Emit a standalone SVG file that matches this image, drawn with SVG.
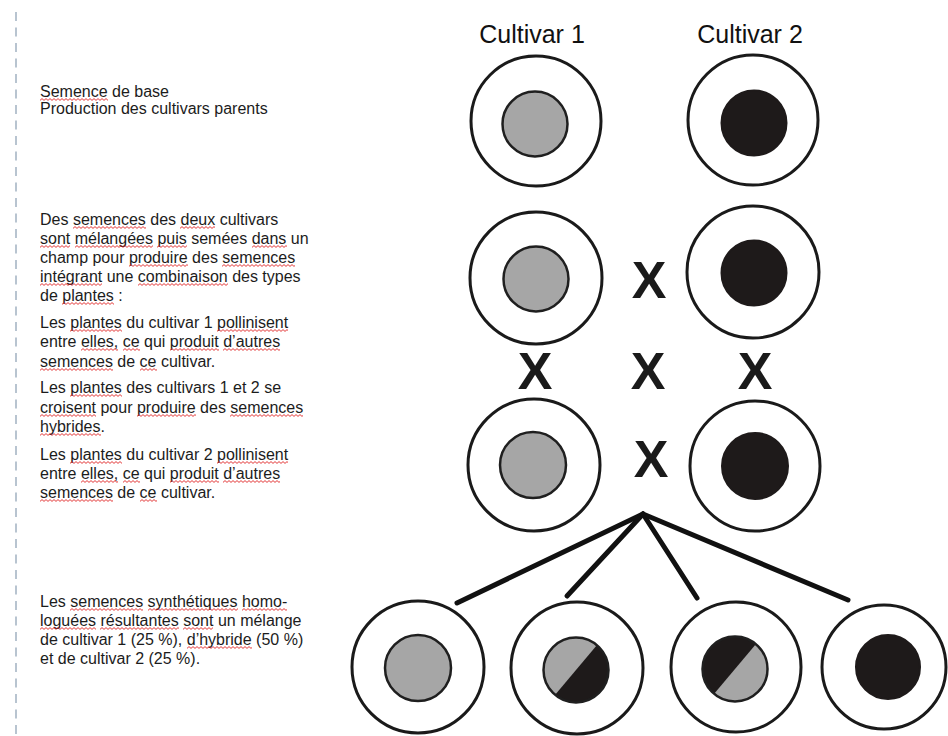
<svg xmlns="http://www.w3.org/2000/svg" width="948" height="736" viewBox="0 0 948 736">
<style>
.t{font-family:"Liberation Sans",Arial,sans-serif;font-size:16px;fill:#1c1c1c}
.h{font-family:"Liberation Sans",Arial,sans-serif;font-size:25px;fill:#111;text-anchor:middle}
.x{font-family:"Liberation Sans",Arial,sans-serif;font-size:52px;font-weight:bold;fill:#1a1a1a;text-anchor:middle}
.o{fill:#fff;stroke:#1a1a1a;stroke-width:3}
.g{fill:#a6a6a6;stroke:#1f1f1f;stroke-width:2.5}
.k{fill:#1e1a1a;stroke:#1e1a1a;stroke-width:2}
.fan{stroke:#111;stroke-width:5;stroke-linecap:round;fill:none}
</style>
<defs>
<pattern id="wv" width="4" height="3" patternUnits="userSpaceOnUse"><path d="M0 2.4 L2 0.6 L4 2.4" fill="none" stroke="#e02424" stroke-width="0.9"/></pattern>
<clipPath id="c2"><circle cx="576" cy="670" r="32.5"/></clipPath>
<clipPath id="c3"><circle cx="735" cy="669" r="32.5"/></clipPath>
</defs>
<rect width="948" height="736" fill="#fff"/>
<line x1="16" y1="12" x2="16" y2="736" stroke="#b8c4d0" stroke-width="2" stroke-dasharray="9 6.5"/>

<g id="text-left">
<text class="t" x="40" y="97">Semence de base</text>
<text class="t" x="40" y="114">Production des cultivars parents</text>
<text class="t" x="40" y="225">Des semences des deux cultivars</text>
<text class="t" x="40" y="244">sont mélangées puis semées dans un</text>
<text class="t" x="40" y="263">champ pour produire des semences</text>
<text class="t" x="40" y="282">intégrant une combinaison des types</text>
<text class="t" x="40" y="301">de plantes :</text>
<text class="t" x="40" y="328">Les plantes du cultivar 1 pollinisent</text>
<text class="t" x="40" y="347">entre elles, ce qui produit d’autres</text>
<text class="t" x="40" y="367">semences de ce cultivar.</text>
<text class="t" x="40" y="393">Les plantes des cultivars 1 et 2 se</text>
<text class="t" x="40" y="413">croisent pour produire des semences</text>
<text class="t" x="40" y="432">hybrides.</text>
<text class="t" x="40" y="460">Les plantes du cultivar 2 pollinisent</text>
<text class="t" x="40" y="479">entre elles, ce qui produit d’autres</text>
<text class="t" x="40" y="498">semences de ce cultivar.</text>
<text class="t" x="40" y="607">Les semences synthétiques homo-</text>
<text class="t" x="40" y="626">loguées résultantes sont un mélange</text>
<text class="t" x="40" y="645">de cultivar 1 (25 %), d’hybride (50 %)</text>
<text class="t" x="40" y="664">et de cultivar 2 (25 %).</text>
</g>

<g id="spellcheck" fill="url(#wv)">
<rect transform="translate(40,98)" width="68" height="3"/>
<rect transform="translate(73,226)" width="73" height="3"/>
<rect transform="translate(180,226)" width="35" height="3"/>
<rect transform="translate(40,245)" width="30" height="3"/>
<rect transform="translate(75,245)" width="78" height="3"/>
<rect transform="translate(157,245)" width="30" height="3"/>
<rect transform="translate(252,245)" width="35" height="3"/>
<rect transform="translate(129,264)" width="59" height="3"/>
<rect transform="translate(222,264)" width="73" height="3"/>
<rect transform="translate(40,283)" width="62" height="3"/>
<rect transform="translate(138,283)" width="90" height="3"/>
<rect transform="translate(62,302)" width="52" height="3"/>
<rect transform="translate(70,329)" width="52" height="3"/>
<rect transform="translate(217,329)" width="71" height="3"/>
<rect transform="translate(81,348)" width="37" height="3"/>
<rect transform="translate(123,348)" width="17" height="3"/>
<rect transform="translate(170,348)" width="49" height="3"/>
<rect transform="translate(223,348)" width="57" height="3"/>
<rect transform="translate(40,368)" width="73" height="3"/>
<rect transform="translate(140,368)" width="17" height="3"/>
<rect transform="translate(70,394)" width="52" height="3"/>
<rect transform="translate(40,414)" width="56" height="3"/>
<rect transform="translate(137,414)" width="59" height="3"/>
<rect transform="translate(230,414)" width="73" height="3"/>
<rect transform="translate(40,433)" width="61" height="3"/>
<rect transform="translate(70,461)" width="52" height="3"/>
<rect transform="translate(217,461)" width="71" height="3"/>
<rect transform="translate(81,480)" width="37" height="3"/>
<rect transform="translate(123,480)" width="17" height="3"/>
<rect transform="translate(170,480)" width="49" height="3"/>
<rect transform="translate(223,480)" width="57" height="3"/>
<rect transform="translate(40,499)" width="73" height="3"/>
<rect transform="translate(140,499)" width="17" height="3"/>
<rect transform="translate(70,608)" width="73" height="3"/>
<rect transform="translate(148,608)" width="90" height="3"/>
<rect transform="translate(242,608)" width="45" height="3"/>
<rect transform="translate(40,627)" width="56" height="3"/>
<rect transform="translate(100,627)" width="79" height="3"/>
<rect transform="translate(183,627)" width="30" height="3"/>
<rect transform="translate(187,646)" width="65" height="3"/>
</g>

<g id="titles">
<text class="h" x="532" y="43">Cultivar 1</text>
<text class="h" x="750" y="43">Cultivar 2</text>
</g>

<g id="connectors">
<line class="fan" x1="643" y1="514" x2="457" y2="603"/>
<line class="fan" x1="643" y1="514" x2="567" y2="596"/>
<line class="fan" x1="643" y1="514" x2="697" y2="598"/>
<line class="fan" x1="643" y1="514" x2="848" y2="600"/>
</g>

<g id="crosses">
<text class="x" x="649" y="298">X</text>
<text class="x" x="535" y="389">X</text>
<text class="x" x="648" y="389">X</text>
<text class="x" x="755" y="389">X</text>
<text class="x" x="651" y="477">X</text>
</g>

<g id="c1-row1"><circle class="o" cx="536" cy="121" r="65"/><circle class="g" cx="535" cy="124" r="32.5"/></g>
<g id="c2-row1"><circle class="o" cx="753" cy="120" r="65"/><circle class="k" cx="754" cy="123" r="32.5"/></g>
<g id="c1-row2"><circle class="o" cx="536" cy="278" r="66"/><circle class="g" cx="536" cy="279" r="32.5"/></g>
<g id="c2-row2"><circle class="o" cx="753" cy="272" r="66"/><circle class="k" cx="754" cy="273" r="32.5"/></g>
<g id="c1-row3"><circle class="o" cx="534" cy="465" r="66"/><circle class="g" cx="533" cy="465" r="33"/></g>
<g id="c2-row3"><circle class="o" cx="755" cy="466" r="65"/><circle class="k" cx="755" cy="466" r="33"/></g>

<g id="result-1"><circle class="o" cx="418" cy="667" r="66"/><circle class="g" cx="418" cy="668" r="33"/></g>
<g id="result-2"><circle class="o" cx="577" cy="668" r="66"/>
<circle cx="576" cy="670" r="32.5" fill="#a6a6a6"/>
<polygon clip-path="url(#c2)" points="543.8,708.3 608.2,631.7 660,700 600,730" fill="#1e1a1a"/>
<circle cx="576" cy="670" r="32.5" fill="none" stroke="#1f1f1f" stroke-width="2.5"/></g>
<g id="result-3"><circle class="o" cx="736" cy="667" r="65"/>
<circle cx="735" cy="669" r="32.5" fill="#1e1a1a"/>
<polygon clip-path="url(#c3)" points="702.8,707.3 767.2,630.7 819,699 759,729" fill="#a6a6a6"/>
<circle cx="735" cy="669" r="32.5" fill="none" stroke="#1f1f1f" stroke-width="2.5"/></g>
<g id="result-4"><circle class="o" cx="884" cy="667" r="62"/><circle class="k" cx="888" cy="667" r="32"/></g>
</svg>
